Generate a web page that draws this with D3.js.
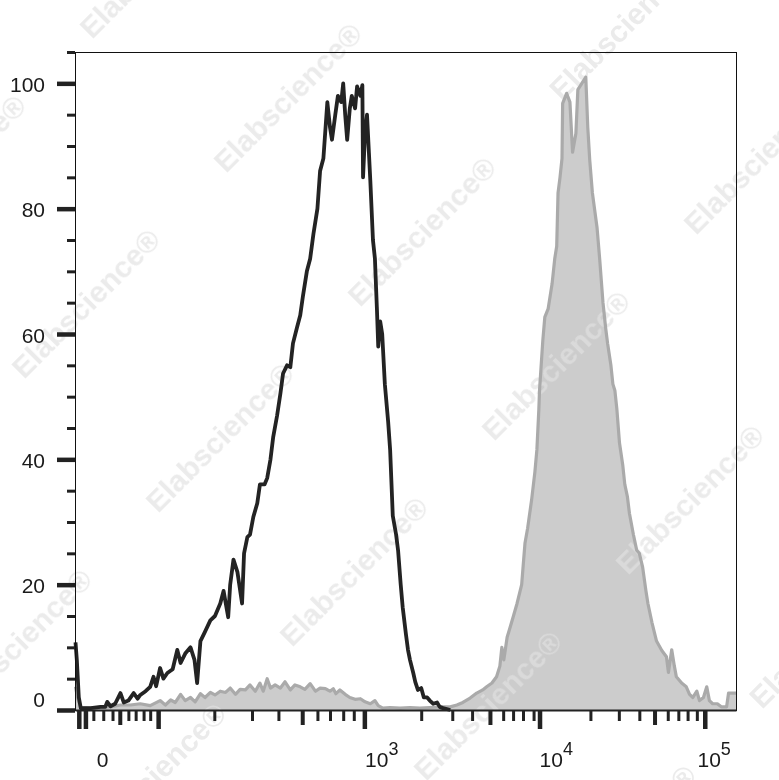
<!DOCTYPE html>
<html>
<head>
<meta charset="utf-8">
<script src="https://cdn.jsdelivr.net/npm/d3@7/dist/d3.min.js"></script>
<style>
  html, body { margin: 0; padding: 0; background: #ffffff; }
  svg { display: block; }
  text { font-family: "Liberation Sans", Arial, Helvetica, sans-serif; }
</style>
</head>
<body>
<svg id="chart" width="779" height="780"></svg>
<script>
// ---- Data (x in display channels 0..1000, y in % of max) ----
const blackHist = [
  [0,10.8],[2,8],[5,2],[8,0.3],[23,0.3],[38,0.5],[45,0.5],[48,1.3],[53,0.6],[60,1],
  [68,2.7],[73,1.2],[80,1.5],[88,2.7],[94,1.8],[98,2.4],[106,3],[113,3.7],[118,5.3],[122,3.8],
  [128,6.7],[133,5],[139,5.9],[147,6.5],[154,9.6],[159,7.5],[166,9],[174,10],[180,8],[184,4.3],
  [189,11],[196,12.5],[204,14.3],[211,15],[219,17],[224,19],[231,14.8],[234,20],[239,24],[245,22],
  [252,17],[255,25],[260,27.6],[264,28],[269,30.8],[275,33],[279,36],[286,36],[290,37],[295,40],
  [299,43.5],[305,47],[310,50.5],[314,53.7],[320,55],[325,54.7],[329,58.5],[335,61],[340,63],[344,66],
  [350,70],[355,72],[360,76],[366,80],[370,86],[375,88],[381,97],[385,93],[388,91],[393,95],
  [397,98],[402,97],[405,100],[408,95],[411,91],[415,96],[418,98],[423,96],[426,99.5],[431,98],
  [434,99.7],[435,85],[438,92],[441,95],[446,84.5],[450,75],[453,72],[456,64],[458,58],[461,62],
  [464,60],[468,52],[473,46],[476,41.5],[480,31],[485,28],[488,25.5],[492,20],[495,16.4],[500,12],
  [503,9.6],[506,8],[511,5.9],[514,4.5],[518,3.2],[523,3.5],[527,2],[532,2],[536,1.5],[541,1],
  [547,1.2],[551,0.5],[556,0.3],[567,0]
];
const greyHist = [
  [0,3.7],[3,2],[8,0.4],[23,0.3],[38,0.4],[53,0.5],[68,0.8],[83,0.8],[98,1],[113,0.7],
  [128,1.5],[136,0.8],[144,1.6],[151,1.2],[159,2.5],[166,1.5],[174,2],[181,1.3],[189,2.6],[196,2],
  [204,2.8],[211,2.4],[219,3],[227,2.8],[234,3.5],[242,2.5],[249,3.3],[257,3.2],[264,4],[272,3],
  [279,4.3],[284,3],[290,5],[295,3.5],[302,4],[310,3.5],[317,4.5],[325,3.2],[332,4],[340,3.7],
  [347,3.3],[355,4.2],[363,3],[370,3.5],[378,3.4],[385,3],[390,3.4],[394,2.6],[400,3.2],[408,2.5],
  [415,2],[423,1.7],[431,1.8],[438,1.3],[446,1],[453,1.5],[458,0.7],[465,0.3],[476,0.4],[491,0.3],
  [506,0.4],[521,0.3],[536,0.4],[551,0.5],[567,0.5],[577,0.8],[586,1.2],[597,1.9],[607,2.7],[616,3.2],
  [622,3.7],[630,4.3],[637,5.3],[642,7],[645,10],[648,8],[653,11.6],[657,13],[662,14.8],[668,17],
  [675,20],[678,24],[680,26.6],[684,29],[690,33.5],[695,38],[698,41.5],[701,48],[702,51],[707,59],
  [710,62.7],[715,64],[721,68],[725,72],[728,74],[730,82.5],[733,85],[736,88],[737,96.8],[743,98.4],
  [748,97],[752,89],[757,92],[760,99],[766,100],[772,101],[775,93],[778,87.7],[782,82.5],[789,77],
  [793,72],[798,65],[802,61],[805,58.5],[810,55],[813,52],[816,51],[819,48],[823,42.6],[828,39],
  [831,36],[835,34],[838,31.4],[844,28],[849,25.5],[853,25],[858,22.8],[863,19],[866,17],[872,14],
  [879,11],[887,9.5],[894,8.5],[897,6],[902,9.6],[906,7],[909,5.3],[917,4.3],[924,3.7],[929,2.5],
  [934,2],[940,3],[944,1.5],[950,2],[955,3.7],[959,1.5],[964,1],[971,1],[977,0.5],[985,0.5],
  [988,2.7],[1000,2.7]
];

// y axis ticks
const yMajorTicks = [0, 20, 40, 60, 80, 100];
const yMinorTicks = [5, 10, 15, 25, 30, 35, 45, 50, 55, 65, 70, 75, 85, 90, 95, 105];

// x axis ticks (display channel positions of the biexponential decades)
const xMajorTicks = [5, 15, 125, 437, 702, 952];
const xMediumTicks = [67, 343, 627, 876];
const xMinorTicks = [27, 42, 56, 80, 91, 103, 113, 210, 267, 307, 366, 385, 405, 421,
                     523, 570, 600, 647, 662, 677, 693, 779, 822, 853, 896, 912, 926, 940];
const xLabels = [
  { pos: 41,  base: "0",  exp: "" , anchor: "middle"},
  { pos: 438, base: "10", exp: "3", anchor: "start"},
  { pos: 702, base: "10", exp: "4", anchor: "start"},
  { pos: 941, base: "10", exp: "5", anchor: "start"}
];

const watermarkText = "Elabscience®";

(function () {
// ---- Layout ----
const svg = d3.select("#chart");
const pLeft = 75.5, pRight = 736.5, pTop = 52, pBottom = 710;

const x = d3.scaleLinear().domain([0, 1000]).range([pLeft, pRight]);
const y = d3.scaleLinear().domain([0, 105]).range([pBottom, pTop]);

const area = d3.area().x(d => x(d[0])).y0(y(0)).y1(d => y(d[1]));
const line = d3.line().x(d => x(d[0])).y(d => y(d[1]));

// grey filled histogram (fill)
svg.append("path").datum(greyHist)
  .attr("d", area).attr("fill", "#cccccc");

// watermark lattice
const wm = svg.append("g").attr("fill", "rgb(225,225,225)").attr("opacity", 0.67)
  .attr("font-weight", "bold").attr("font-size", 30);
for (let i = -3; i <= 3; i++) {
  for (let j = -3; j <= 7; j++) {
    const sx = 92 + j * 134 - i * 68;
    const sy = 40 + j * 134 + i * 340;
    if (sx < -260 || sx > 800 || sy < -60 || sy > 980) continue;
    wm.append("text")
      .attr("transform", `translate(${sx},${sy}) rotate(-45)`)
      .text(watermarkText);
  }
}

// grey outline
svg.append("path").datum(greyHist)
  .attr("d", line).attr("fill", "none")
  .attr("stroke", "#aaaaaa").attr("stroke-width", 3.2).attr("stroke-linejoin", "round");

// black histogram
svg.append("path").datum(blackHist)
  .attr("d", line).attr("fill", "none")
  .attr("stroke", "#232323").attr("stroke-width", 3.8).attr("stroke-linejoin", "round");

// frame
svg.append("rect").attr("x", pLeft).attr("y", pTop + 0.5)
  .attr("width", pRight - pLeft).attr("height", pBottom - pTop)
  .attr("fill", "none").attr("stroke", "#111").attr("stroke-width", 1);
svg.append("line").attr("x1", pLeft).attr("x2", pRight)
  .attr("y1", pBottom + 0.5).attr("y2", pBottom + 0.5)
  .attr("stroke", "#222").attr("stroke-width", 2);

// y axis ticks
function yTicks(vals, size, width) {
  const g = svg.append("g").attr("transform", `translate(${pLeft - 0.5},0)`)
    .call(d3.axisLeft(y).tickValues(vals).tickSize(size).tickFormat(""));
  g.select(".domain").remove();
  g.selectAll("line").attr("stroke", "#222").attr("stroke-width", width);
}
yTicks(yMajorTicks, 18, 4.5);
yTicks(yMinorTicks, 8, 3);

// x axis ticks
function xTicks(vals, size, width) {
  const g = svg.append("g").attr("transform", `translate(0,${pBottom + 1})`)
    .call(d3.axisBottom(x).tickValues(vals).tickSize(size).tickFormat(""));
  g.select(".domain").remove();
  g.selectAll("line").attr("stroke", "#222").attr("stroke-width", width);
}
xTicks(xMinorTicks, 10, 3);
xTicks(xMediumTicks, 14, 4);
xTicks(xMajorTicks, 18, 4.5);

// y labels
svg.append("g").selectAll("text").data(yMajorTicks).join("text")
  .attr("x", 45).attr("y", d => y(d) + (d === 0 ? -3 : 8.5))
  .attr("text-anchor", "end").attr("font-size", 21).attr("fill", "#1a1a1a")
  .text(d => d);

// x labels
const xl = svg.append("g").selectAll("text").data(xLabels).join("text")
  .attr("x", d => x(d.pos)).attr("y", 767)
  .attr("text-anchor", d => d.anchor).attr("font-size", 21).attr("fill", "#1a1a1a");
xl.append("tspan").text(d => d.base);
xl.append("tspan").attr("dy", -12).attr("font-size", 18).text(d => d.exp);
})();
</script>
</body>
</html>
